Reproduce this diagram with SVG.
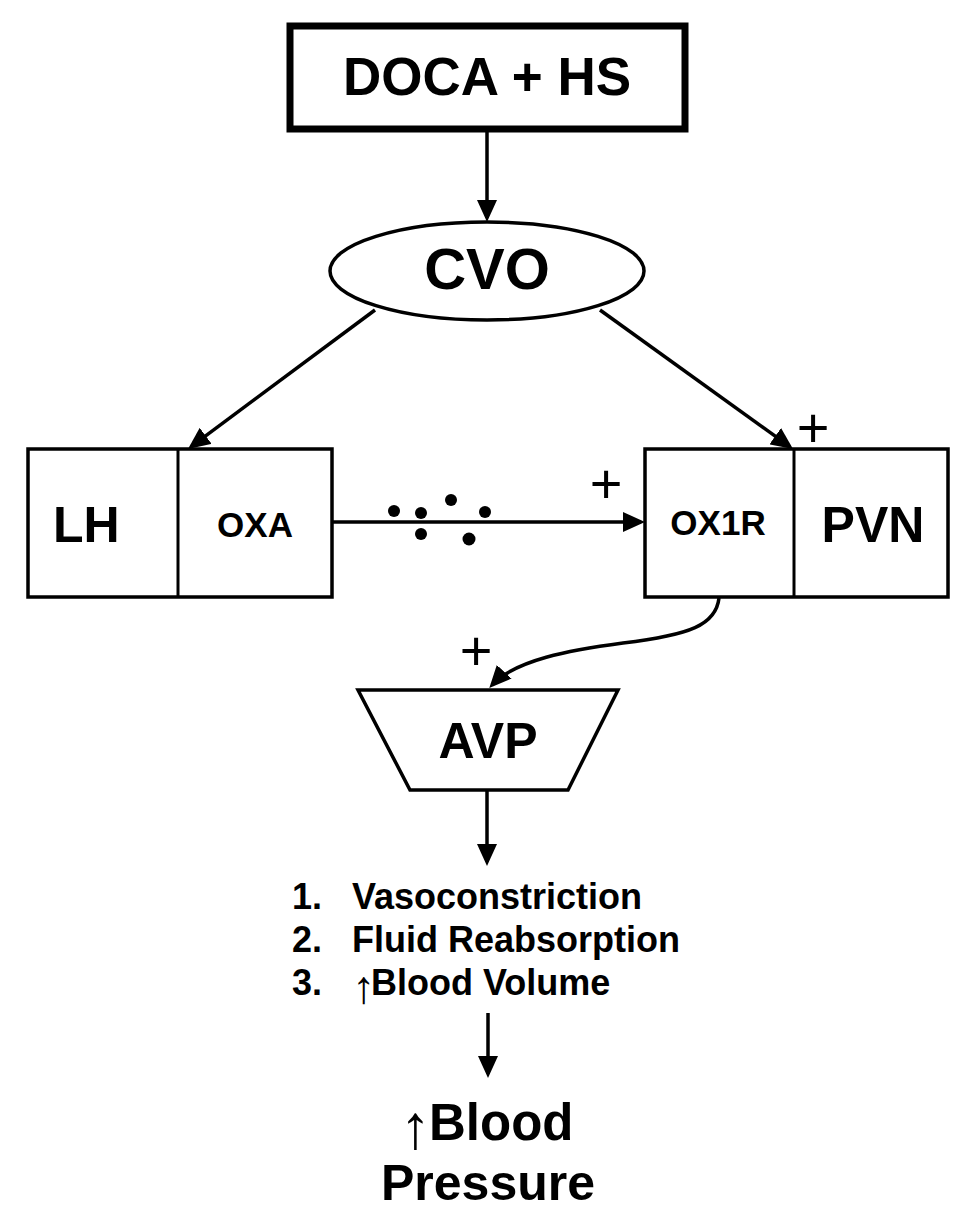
<svg xmlns="http://www.w3.org/2000/svg" width="975" height="1231" viewBox="0 0 975 1231">
<style>
.b{font-family:"Liberation Sans",Arial,sans-serif;font-weight:bold;fill:#000}
.r{font-family:"Liberation Sans",Arial,sans-serif;font-weight:normal;fill:#000}
.shape{fill:#fff;stroke:#000;stroke-width:3.5}
.con{fill:none;stroke:#000;stroke-width:3.5}
</style>
<defs>
<marker id="ah" viewBox="0 0 22 20" markerWidth="22" markerHeight="20" refX="18" refY="10" orient="auto" markerUnits="userSpaceOnUse">
<path d="M0,0 L22,10 L0,20 z" fill="#000"/>
</marker>
</defs>
<rect width="975" height="1231" fill="#fff"/>
<g id="connectors">
<path class="con" d="M487 130 L487 218" marker-end="url(#ah)"/>
<path class="con" d="M375 310 L191.2 446.6" marker-end="url(#ah)"/>
<path class="con" d="M600 310 L789.8 446.7" marker-end="url(#ah)"/>
<path class="con" d="M332 522 L641 522" marker-end="url(#ah)"/>
<path class="con" d="M719 598 C716 625 690 635 623 643 C570 650 515 660 492 685" marker-end="url(#ah)"/>
<path class="con" d="M487 790 L487 862" marker-end="url(#ah)"/>
<path class="con" d="M488 1013 L488 1074" marker-end="url(#ah)"/>
</g>
<g id="doca">
<rect x="290" y="26" width="395" height="103" fill="#fff" stroke="#000" stroke-width="7"/>
<text class="b" x="487" y="95" font-size="53" text-anchor="middle">DOCA + HS</text>
</g>
<g id="cvo">
<ellipse class="shape" cx="487" cy="271" rx="157" ry="49" stroke-width="3"/>
<text class="b" x="487" y="289" font-size="58" text-anchor="middle">CVO</text>
</g>
<g id="lh">
<rect class="shape" x="28" y="449" width="304" height="148"/>
<line x1="178" y1="449" x2="178" y2="597" stroke="#000" stroke-width="3"/>
<text class="b" x="53" y="542" font-size="50">LH</text>
<text class="b" x="255" y="537" font-size="35" text-anchor="middle">OXA</text>
</g>
<g id="dots">
<circle cx="394" cy="511" r="6"/>
<circle cx="421" cy="513" r="6"/>
<circle cx="451" cy="500" r="6"/>
<circle cx="485" cy="512" r="6"/>
<circle cx="421" cy="534" r="6"/>
<circle cx="469" cy="539" r="6.5"/>
</g>
<g id="pvn">
<rect class="shape" x="645" y="449" width="303" height="148"/>
<line x1="794" y1="449" x2="794" y2="597" stroke="#000" stroke-width="3"/>
<text class="b" x="718" y="535" font-size="35" text-anchor="middle">OX1R</text>
<text class="b" x="873" y="542" font-size="50" text-anchor="middle">PVN</text>
</g>
<g id="plus-signs">
<text class="r" x="813" y="447" font-size="56" text-anchor="middle">+</text>
<text class="r" x="606" y="503" font-size="56" text-anchor="middle">+</text>
<text class="r" x="476" y="670" font-size="56" text-anchor="middle">+</text>
</g>
<g id="avp">
<path class="shape" d="M358 690 L618 690 L568 790 L410 790 Z"/>
<text class="b" x="488" y="758" font-size="50" text-anchor="middle">AVP</text>
</g>
<g id="effects">
<text class="b" font-size="36"><tspan x="292" y="909">1.</tspan><tspan x="352" y="909">Vasoconstriction</tspan></text>
<text class="b" font-size="36"><tspan x="292" y="952">2.</tspan><tspan x="352" y="952">Fluid Reabsorption</tspan></text>
<text class="b" font-size="36"><tspan x="292" y="995">3.</tspan><tspan x="352" y="1003" font-weight="normal" font-size="46">↑</tspan><tspan x="371" y="995">Blood Volume</tspan></text>
</g>
<g id="bp">
<text class="b" font-size="51"><tspan x="400" y="1148" font-weight="normal" font-size="62">↑</tspan><tspan x="429" y="1140">Blood</tspan></text>
<text class="b" x="488" y="1200" font-size="50" text-anchor="middle">Pressure</text>
</g>
</svg>
